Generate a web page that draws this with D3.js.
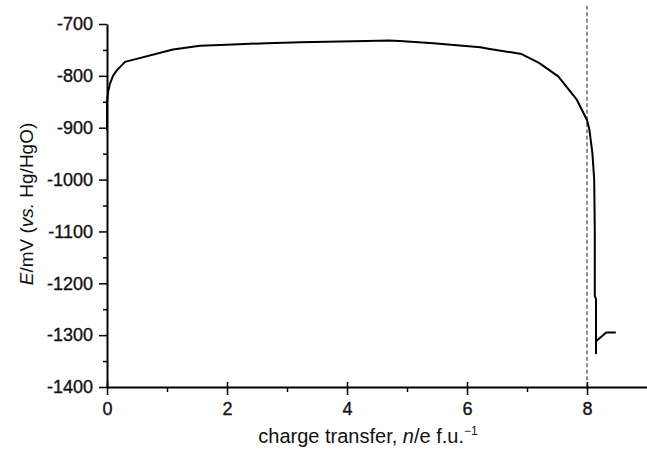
<!DOCTYPE html>
<html>
<head>
<meta charset="utf-8">
<script src="https://cdn.jsdelivr.net/npm/d3@7"></script>
<style>
  body { margin: 0; background: #fff; }
  svg { display: block; }
  text { font-family: "Liberation Sans", Arial, Helvetica, sans-serif; fill: #111; }
  .tick text { stroke: #111; stroke-width: 0.35px; }
</style>
</head>
<body>
<div id="chart"></div>
<script>
var width = 647, height = 451;
var margin = { top: 24, right: 0, bottom: 64, left: 107 };

// charge transfer (n/e per f.u.) and potential (mV vs Hg/HgO)
var chargeX = [0, 0, 0.02, 0.05, 0.1, 0.16, 0.3, 1.1, 1.55, 2.0, 2.66, 3.22, 4.33, 4.7, 4.88,
  5.44, 6.22, 6.38, 6.91, 7.2, 7.52, 7.83, 8.0, 8.04, 8.09, 8.12, 8.13, 8.13, 8.15, 8.15,
  8.15, 8.32, 8.48];
var potentialE = [-905, -850, -830, -815, -800, -790, -773, -749, -742, -740, -737, -735, -733, -732, -733,
  -737, -745, -748, -758, -775, -801, -846, -885, -904, -949, -1000, -1100, -1225, -1230, -1335,
  -1312, -1295, -1295];

var xMajor = [0, 2, 4, 6, 8];
var xMinor = [1, 3, 5, 7];
var yMajor = [-700, -800, -900, -1000, -1100, -1200, -1300, -1400];
var yMinor = [-750, -850, -950, -1050, -1150, -1250, -1350];
var cutoffX = 8;

var w = width - margin.left - margin.right;
var h = height - margin.top - margin.bottom;

var svg = d3.select("#chart").append("svg")
  .attr("width", width).attr("height", height);
var g = svg.append("g").attr("transform", "translate(" + margin.left + "," + margin.top + ")");

var x = d3.scaleLinear().domain([0, 9]).range([0, w]);
var y = d3.scaleLinear().domain([-1400, -700]).range([h, 0]);

// dashed marker at n = 8
g.append("line")
  .attr("x1", x(cutoffX)).attr("x2", x(cutoffX))
  .attr("y1", y(-665)).attr("y2", h)
  .attr("stroke", "#555").attr("stroke-width", 1.3)
  .attr("stroke-dasharray", "4,2.5");

// y axis (minor then major)
g.append("g")
  .call(d3.axisLeft(y).tickValues(yMinor).tickSize(4).tickFormat(""))
  .call(a => a.select(".domain").remove())
  .selectAll("line").attr("stroke-width", 1.5);
var ya = g.append("g")
  .call(d3.axisLeft(y).tickValues(yMajor).tickSizeInner(8).tickSizeOuter(0).tickPadding(6)
    .tickFormat(d => String(d)));
ya.select(".domain").attr("stroke-width", 2);
ya.selectAll("line").attr("stroke-width", 1.5);
ya.selectAll("text").style("font-size", "18px");

// x axis
g.append("g").attr("transform", "translate(0," + h + ")")
  .call(d3.axisBottom(x).tickValues(xMinor).tickSize(5).tickFormat(""))
  .call(a => a.select(".domain").remove())
  .selectAll("line").attr("stroke-width", 1.5);
var xa = g.append("g").attr("transform", "translate(0," + h + ")")
  .call(d3.axisBottom(x).tickValues(xMajor).tickSizeInner(8).tickSizeOuter(0).tickPadding(7));
xa.select(".domain").attr("stroke-width", 2);
xa.selectAll(".tick line").attr("y1", -5).attr("stroke-width", 1.5);
xa.selectAll("text").style("font-size", "18px");

// curve
var line = d3.line().x(d => x(d[0])).y(d => y(d[1]));
g.append("path")
  .datum(chargeX.map((v, i) => [v, potentialE[i]]))
  .attr("d", line)
  .attr("fill", "none").attr("stroke", "#000").attr("stroke-width", 2)
  .attr("stroke-linejoin", "round");

// axis titles
var xt = svg.append("text")
  .attr("x", 368).attr("y", 443)
  .attr("text-anchor", "middle")
  .style("font-size", "20px");
xt.append("tspan").text("charge transfer, ");
xt.append("tspan").style("font-style", "italic").text("n");
xt.append("tspan").text("/e f.u.");
xt.append("tspan").attr("dy", -8).style("font-size", "12px").text("\u22121");

var yt = svg.append("text")
  .attr("transform", "translate(33,204) rotate(-90)")
  .attr("text-anchor", "middle")
  .style("font-size", "19px");
yt.append("tspan").style("font-style", "italic").text("E");
yt.append("tspan").text("/mV (");
yt.append("tspan").style("font-style", "italic").text("vs.");
yt.append("tspan").text(" Hg/HgO)");
</script>
</body>
</html>
